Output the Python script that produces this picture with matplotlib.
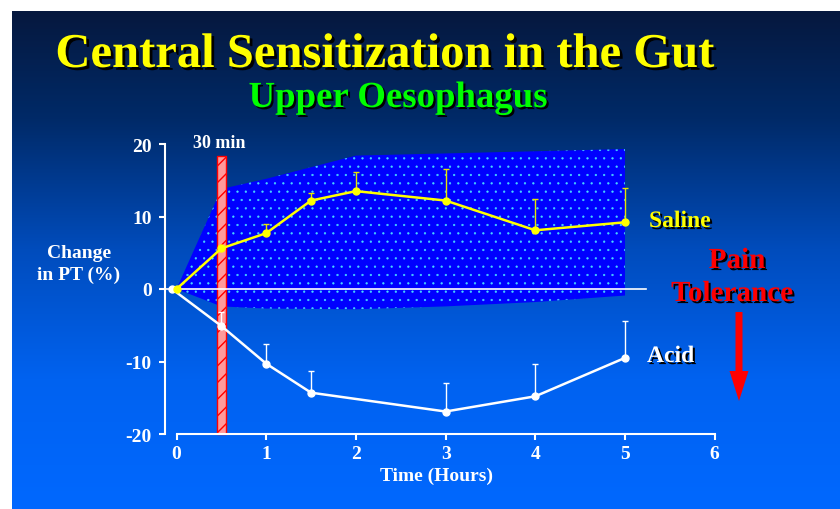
import numpy as np
import matplotlib
matplotlib.use('Agg')
import matplotlib.pyplot as plt
import matplotlib.patheffects as pe
from matplotlib.patches import Rectangle, FancyArrow

plt.rcParams['axes.unicode_minus'] = False
plt.rcParams['hatch.linewidth'] = 0.4

# data
saline_t = [0, 0.5, 1, 1.5, 2, 3, 4, 5]
saline_pt = [0, 5.6, 7.7, 12.2, 13.5, 12.2, 8.1, 9.2]
saline_err = [0, 0, 1.3, 1.0, 2.7, 4.4, 4.3, 4.7]

acid_t = [-0.05, 0.5, 1, 1.5, 3, 4, 5]
acid_pt = [0, -5.1, -10.3, -14.3, -16.9, -14.8, -9.5]
acid_err = [0, 1.9, 2.7, 3.0, 4.0, 4.4, 5.1]

band_t = [0, 0.5, 1, 2, 3, 4, 5]
band_hi = [0, 13.8, 15.2, 18.4, 18.7, 19.0, 19.3]
band_lo = [0, -2.4, -2.7, -2.8, -2.4, -1.8, -0.9]

x_ticks = [0, 1, 2, 3, 4, 5, 6]
y_ticks = [-20, -10, 0, 10, 20]

SERIF = 'Liberation Serif'
W, H = 840, 510

fig = plt.figure(figsize=(8.4, 5.1), dpi=100, facecolor='white')

# background panel in pixel coords
bg = fig.add_axes([0, 0, 1, 1], zorder=0)
bg.set_xlim(0, W)
bg.set_ylim(H, 0)
bg.axis('off')
stops_y = [12, 120, 250, 380, 510]
stops_r = [6, 0, 0, 0, 0]
stops_g = [24, 42, 76, 98, 104]
stops_b = [62, 104, 188, 240, 255]
yy = np.arange(12, 511)
grad = np.zeros((len(yy), 1, 3))
grad[:, 0, 0] = np.interp(yy, stops_y, stops_r) / 255
grad[:, 0, 1] = np.interp(yy, stops_y, stops_g) / 255
grad[:, 0, 2] = np.interp(yy, stops_y, stops_b) / 255
bg.imshow(grad, extent=[12, W, 510, 12], aspect='auto', interpolation='bilinear')

def shadow(off):
    return [pe.SimplePatchShadow(offset=(off, -off), shadow_rgbFace='black', alpha=1.0), pe.Normal()]

bg.text(385, 68, 'Central Sensitization in the Gut', color='#ffff00', fontsize=35,
        fontweight='bold', family=SERIF, ha='center', va='baseline', path_effects=shadow(2))
bg.text(398, 108, 'Upper Oesophagus', color='#00ff00', fontsize=26.5,
        fontweight='bold', family=SERIF, ha='center', va='baseline', path_effects=shadow(1.5))
bg.text(79, 258, 'Change', color='white', fontsize=14, fontweight='bold', family=SERIF,
        ha='center', va='baseline')
bg.text(79, 280, 'in PT (%)', color='white', fontsize=14, fontweight='bold', family=SERIF,
        ha='center', va='baseline')
bg.text(219, 148, '30 min', color='white', fontsize=13, fontweight='bold', family=SERIF,
        ha='center', va='baseline')
bg.text(437, 481, 'Time (Hours)', color='white', fontsize=14, fontweight='bold', family=SERIF,
        ha='center', va='baseline')
bg.text(649, 228, 'Saline', color='#ffff00', fontsize=17, fontweight='bold', family=SERIF,
        ha='left', va='baseline', path_effects=shadow(1.5))
bg.text(647, 363, 'Acid', color='white', fontsize=17, fontweight='bold', family=SERIF,
        ha='left', va='baseline', path_effects=shadow(1.5))
bg.text(737, 269, 'Pain', color='#ff0000', fontsize=21, fontweight='bold', family=SERIF,
        ha='center', va='baseline', path_effects=shadow(1.5))
bg.text(732, 302, 'Tolerance', color='#ff0000', fontsize=21, fontweight='bold', family=SERIF,
        ha='center', va='baseline', path_effects=shadow(1.5))
bg.add_patch(FancyArrow(739, 313, 0, 89, width=7, head_width=19, head_length=30,
                        length_includes_head=True, color='#ff0000', lw=0))

# main plot
x0_px, xu = 176.5, 89.7
y0_px, yu = 290, 7.25
xlo, xhi = -0.2, 6.2
ylo, yhi = -21, 21
left = (x0_px + xlo * xu) / W
width = (xhi - xlo) * xu / W
bottom = (H - (y0_px - ylo * yu)) / H
height = (yhi - ylo) * yu / H
ax = fig.add_axes([left, bottom, width, height], zorder=1)
ax.patch.set_visible(False)
ax.set_xlim(xlo, xhi)
ax.set_ylim(ylo, yhi)

ax.fill_between(band_t, band_lo, band_hi, facecolor='#0000ff', edgecolor='#48d8ff',
                linewidth=0, hatch='..', zorder=1)
with plt.rc_context({'hatch.linewidth': 1.0}):
    ax.add_patch(Rectangle((0.453, -20), 0.094, 38.3, facecolor='#ff9a9a', edgecolor='#ff0000',
                           hatch='//', lw=1, zorder=2))
ax.plot([-0.128, 5.23], [0, 0], color='white', lw=1.2, zorder=3)

ax.errorbar(saline_t, saline_pt, yerr=[np.zeros(len(saline_err)), saline_err], fmt='none',
            ecolor='#e6e600', elinewidth=1, capsize=2, capthick=1, zorder=4)
ax.errorbar(acid_t, acid_pt, yerr=[np.zeros(len(acid_err)), acid_err], fmt='none',
            ecolor='white', elinewidth=1, capsize=2, capthick=1, zorder=4)
ax.plot(acid_t, acid_pt, color='white', lw=1.8, marker='o', ms=5, zorder=5)
ax.plot(saline_t, saline_pt, color='#ffff00', lw=1.8, marker='o', ms=5, zorder=6)

for s in ['top', 'right']:
    ax.spines[s].set_visible(False)
ax.spines['left'].set_position(('data', -0.128))
ax.spines['left'].set_bounds(-20, 20)
ax.spines['bottom'].set_position(('data', -20))
ax.spines['bottom'].set_bounds(0, 6)
for s in ['left', 'bottom']:
    ax.spines[s].set_color('white')
    ax.spines[s].set_linewidth(1.5)

ax.set_xticks(x_ticks)
ax.set_yticks(y_ticks)
ax.tick_params(colors='white', width=1.5, length=4, direction='out')
ax.tick_params(axis='y', pad=5.5)
ax.tick_params(axis='x', pad=4)
for lab in ax.get_xticklabels() + ax.get_yticklabels():
    lab.set_fontfamily(SERIF)
    lab.set_fontweight('bold')
    lab.set_fontsize(14)
    lab.set_color('white')

fig.savefig('out.png', dpi=100, facecolor='white')
